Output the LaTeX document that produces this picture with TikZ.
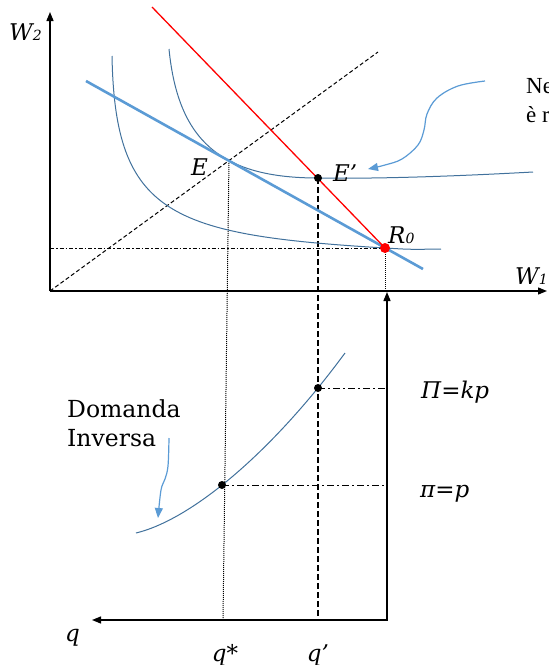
\documentclass[tikz,border=0pt]{standalone}
\usepackage{fontspec}
\setmainfont{DejaVu Serif}
\newfontfamily\edgefont{Liberation Serif}
\usetikzlibrary{arrows.meta}
\definecolor{curveblue}{HTML}{41719C}
\definecolor{lineblue}{HTML}{5B9BD5}
\newcommand\lsub[1]{{\fontsize{14}{14}\selectfont #1}}
\begin{document}
\begin{tikzpicture}[x=1pt,y=-1pt,
  every node/.style={font=\fontsize{23.5}{27}\selectfont, inner sep=0pt},
  lbl/.style={font=\fontsize{23}{26}\selectfont\itshape},
  edgetext/.style={font=\edgefont\fontsize{23}{27}\selectfont},
  axis/.style={line width=1.3pt, -{Triangle[length=9pt,width=7pt]}},
  icurve/.style={curveblue, line width=1pt},
  budget/.style={lineblue, line width=2.6pt},
  redline/.style={red, line width=1.3pt},
  dotline/.style={densely dotted, line width=1pt},
  dashline/.style={dash pattern=on 6pt off 3pt, line width=1.2pt},
  diagline/.style={dash pattern=on 4pt off 2.5pt, line width=1pt},
  dashdot/.style={dash pattern=on 7pt off 3pt on 2pt off 3pt, line width=1pt},
  finedashdot/.style={dash pattern=on 4pt off 2pt on 1.5pt off 2pt, line width=0.9pt},
  note/.style={lineblue, line width=1.2pt, -{Triangle[length=10pt,width=8pt]}},
  blackdot/.style={circle, fill=black, minimum size=8pt, inner sep=0pt},
  reddot/.style={circle, fill=red, minimum size=10pt, inner sep=0pt},
]
\useasboundingbox (0,0) rectangle (549,665);
% coordinates
\coordinate (O) at (50,291);
\coordinate (Ytip) at (50,12);
\coordinate (Xtip) at (547,291);
\coordinate (R0) at (385,248);
\coordinate (Ep) at (318,178);
\coordinate (E) at (229,159);
\coordinate (Bs) at (86,81);
\coordinate (Be) at (423,269);
\coordinate (Rs) at (152,7);
\coordinate (Dg) at (378,52);
\coordinate (Wax) at (387,292);
\coordinate (Corner) at (387,620);
\coordinate (Qtip) at (92,620);
\coordinate (qs) at (223,620);
\coordinate (qp) at (318,620);
\coordinate (L0) at (50,248);
\coordinate (A0) at (385,291);
\coordinate (D1) at (222,485);
\coordinate (D2) at (318,388);
\coordinate (H1) at (387,485);
\coordinate (H2) at (387,388);
% guide lines
\draw[diagline] (O) -- (Dg);
\draw[finedashdot] (L0) -- (R0);
\draw[dotline] (R0) -- (A0);
\draw[dotline] (E) -- (qs);
\draw[dashline] (Ep) -- (qp);
\draw[dashdot] (D1) -- (H1);
\draw[dashdot] (D2) -- (H2);
% indifference curves
\draw[icurve] (112,56) .. controls (115,215) and (170,235) .. (R0)
  .. controls (410,249.5) .. (441,249);
\draw[icurve] (169,49) .. controls (178,140) and (220,178) .. (Ep)
  .. controls (380,179) and (460,176) .. (533,172);
% budget and red lines
\draw[budget] (Bs) -- (Be);
\draw[redline] (Rs) -- (R0);
% axes
\draw[axis] (O) -- (Ytip);
\draw[axis] (O) -- (Xtip);
\draw[line width=1.3pt, {Triangle[length=9pt,width=7pt]}-{Triangle[length=9pt,width=7pt]}] (Wax) -- (Corner) -- (Qtip);
% inverse demand
\draw[icurve] (136,533) .. controls (190,520) and (270,455) .. (345,353);
% annotation arrows
\draw[note] plot[smooth, tension=0.6] coordinates {(169,438) (168,466) (165,479) (161,490) (158,518)};
\draw[note] plot[smooth, tension=0.6] coordinates {(485,81) (458,86) (437,98) (427,114) (424,130) (418,145) (402,159) (385,165) (368,169)};
% dots
\node[blackdot] (dEp) at (Ep) {};
\node[blackdot] (dD1) at (D1) {};
\node[blackdot] (dD2) at (D2) {};
\node[reddot] (dR0) at (R0) {};
% labels
\node[lbl, anchor=base west] (lW2) at (9,40) {W\lsub{2}};
\node[lbl, anchor=base west] (lW1) at (515,284) {W\lsub{1}};
\node[lbl, anchor=base west] (lE) at (191,175) {E};
\node[lbl, anchor=base west] (lEp) at (333,181) {E’};
\node[lbl, anchor=base west] (lR0) at (388,243) {R\lsub{0}};
\node[lbl, anchor=base west] (lkp) at (421,398) {Π=kp};
\node[lbl, anchor=base west] (lp) at (420,497) {π=p};
\node[lbl, anchor=base west] (lq) at (65,641) {q};
\node[lbl, anchor=base] (lqs) at (225,661) {q*};
\node[lbl, anchor=base] (lqp) at (318,661) {q’};
\node[anchor=base west] (dom) at (67,417) {Domanda};
\node[anchor=base west] (inv) at (67,446) {Inversa};
\node[edgetext, anchor=base west] (ne) at (526,93) {Ne};
\node[edgetext, anchor=base west] (er) at (526,122) {è r};
\end{tikzpicture}
\end{document}
